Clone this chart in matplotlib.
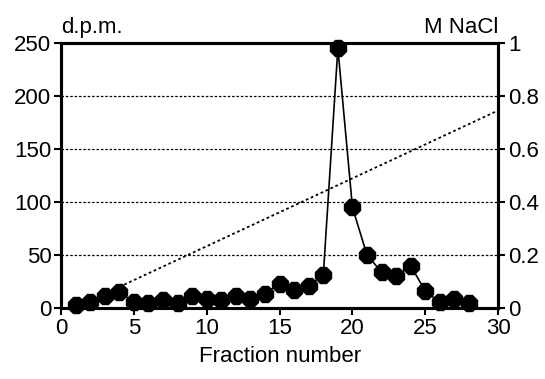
import matplotlib
matplotlib.use("Agg")
import matplotlib.pyplot as plt

# radioactivity per fraction (d.p.m.)
fractions = list(range(1, 29))
dpm = [2.5, 5.7, 11, 15.5, 5.5, 4.7, 7.3, 5.3, 11, 8.5, 7.3, 11, 8.2, 13.5,
       23, 17, 21, 31, 245, 95, 50, 34, 30, 40, 16, 5.5, 8.5, 4.7]

# salt gradient (M NaCl), start and end of the linear gradient
nacl_fraction = [4, 30]
nacl_conc = [0.08, 0.745]

dpm_ticks = [0, 50, 100, 150, 200, 250]
nacl_ticks = [0, 0.2, 0.4, 0.6, 0.8, 1]
nacl_labels = ["0", "0.2", "0.4", "0.6", "0.8", "1"]
x_ticks = [0, 5, 10, 15, 20, 25, 30]

plt.rcParams['font.family'] = ['Liberation Sans', 'DejaVu Sans']
plt.rcParams['font.size'] = 16

fig = plt.figure(figsize=(5.45, 3.79), dpi=100)
ax = fig.add_axes([0.112, 0.187, 0.802, 0.700])
ax2 = ax.twinx()

# dotted gridlines on the d.p.m. axis
for y in dpm_ticks[1:-1]:
    ax.axhline(y, color='black', linestyle=(0, (2, 1.5)), linewidth=0.9, zorder=1)

ax.plot(fractions, dpm, color='black', linewidth=1.2, marker='8',
        markersize=12, markerfacecolor='black', markeredgecolor='black',
        zorder=3, clip_on=False)
ax2.plot(nacl_fraction, nacl_conc, color='black', linestyle=(0, (1.5, 1.5)),
         linewidth=1.3)

ax.set_xlim(0, 30)
ax.set_ylim(0, 250)
ax2.set_ylim(0, 1)
ax.set_xticks(x_ticks)
ax.set_yticks(dpm_ticks)
ax2.set_yticks(nacl_ticks)
ax2.set_yticklabels(nacl_labels)

for a in (ax, ax2):
    for s in a.spines.values():
        s.set_linewidth(2.2)
    a.tick_params(direction='out', length=5, width=1.5, pad=2)

ax.set_xlabel("Fraction number", labelpad=5)
ax.text(0.0, 1.02, "d.p.m.", transform=ax.transAxes, ha='left', va='bottom')
ax2.text(1.0, 1.02, "M NaCl", transform=ax2.transAxes, ha='right', va='bottom')

fig.savefig("out.png", dpi=100)
